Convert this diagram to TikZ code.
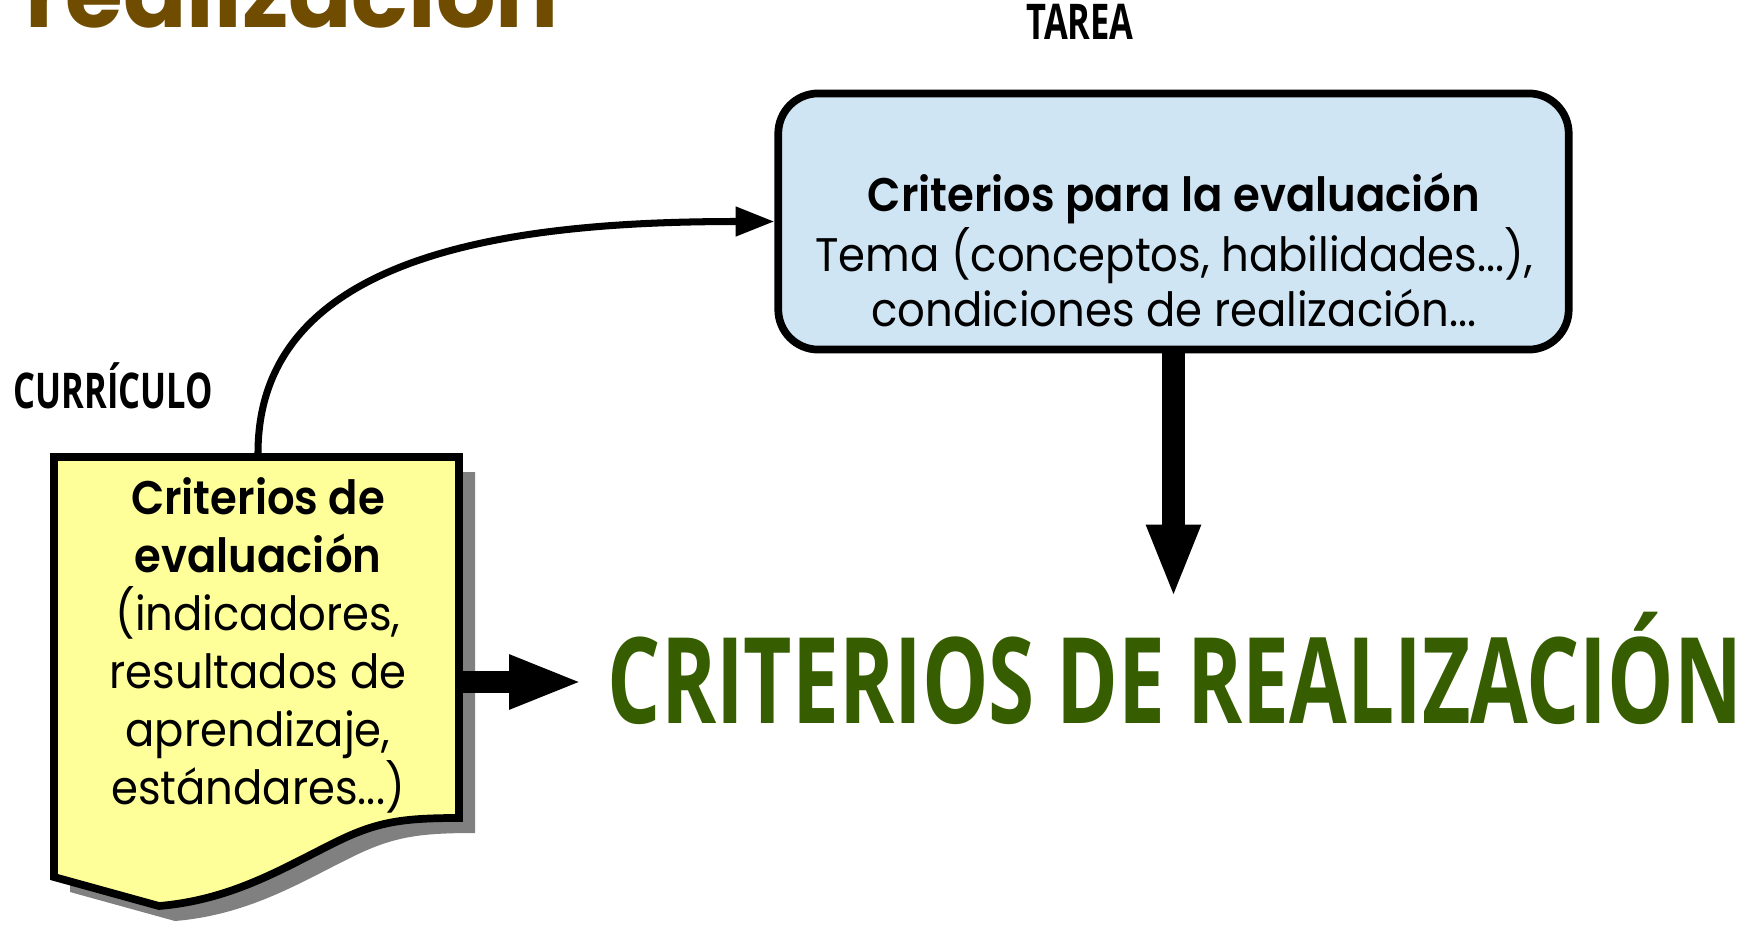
\documentclass[tikz,border=0pt]{standalone}
\usepackage{fontspec}
\setmainfont[FakeStretch=0.92, BoldFont={Poppins SemiBold}]{Poppins}
\newfontfamily\headfont[FakeStretch=0.7]{Open Sans}
\newfontfamily\titlefont{Poppins Bold}
\usetikzlibrary{arrows.meta,positioning}

\definecolor{titlebrown}{RGB}{112,76,0}
\definecolor{realizgreen}{RGB}{54,94,0}
\definecolor{tareablue}{RGB}{208,229,243}
\definecolor{hojayellow}{RGB}{255,255,153}
\definecolor{hojashadow}{RGB}{128,128,128}

\newcommand\hojapath{(54,457) -- (459,457) -- (459,818) .. controls (400,818) and (375,822) .. (330,845) .. controls (280,870) and (230,900) .. (159,906) -- (54,877) -- cycle}

\begin{document}
\begin{tikzpicture}[x=0.01cm, y=-0.01cm,
  box/.style={line width=2.2pt, draw=black},
  head/.style={font=\headfont\bfseries\fontsize{14}{16}\selectfont, inner sep=0},
  body/.style={font=\fontsize{13.4}{15.8}\selectfont, align=center, inner sep=0},
  fat/.style={line width=6pt, -{Triangle[length=21pt,width=14pt]}}]
  \useasboundingbox (0,0) rectangle (1756,927);

  % title, cut at the top
  \node[anchor=base west, inner sep=0, text=titlebrown, font=\titlefont\fontsize{26.6}{29}\selectfont] (titulo) at (25,27) {realización};

  \node[head, anchor=base] (tareatit) at (1080,39) {TAREA};
  \node[head, anchor=base west] (curr) at (13,408) {CURRÍCULO};

  % tarea box
  \node[box, fill=tareablue, rounded corners=0.4cm, minimum width=7.9cm, minimum height=2.56cm] (tarea) at (1173.5,221.5) {};
  \node[body] (tareatxt) at (1174,250) {\textbf{Criterios para la evaluación}\\Tema (conceptos, habilidades...),\\condiciones de realización...};

  % curriculo sheet
  \fill[hojashadow, xshift=0.16cm, yshift=-0.15cm] \hojapath;
  \draw[box, fill=hojayellow] \hojapath;
  \node[body, font=\fontsize{13.4}{16.5}\selectfont] (hoja) at (258,645) {\textbf{Criterios de}\\\textbf{evaluación}\\(indicadores,\\resultados de\\aprendizaje,\\estándares...)};
  \coordinate (hojatop) at (258,453);
  \coordinate (hojaeast) at (463,682);

  \node[anchor=base west, inner sep=0, text=realizgreen, font=\headfont\bfseries\fontsize{34}{36}\selectfont] (realiz) at (607,723) {CRITERIOS DE REALIZACIÓN};

  % connectors
  \draw[line width=2pt, -{Triangle[length=11pt,width=8pt]}] (hojatop) .. controls (258,250) and (520,221.5) .. (tarea.west);
  \draw[fat] (hojaeast) -- (hojaeast -| realiz.west) [shorten >=0.24cm];
  \draw[fat, line width=6.5pt] (tarea.south) -- ++(0,245);
\end{tikzpicture}
\end{document}
